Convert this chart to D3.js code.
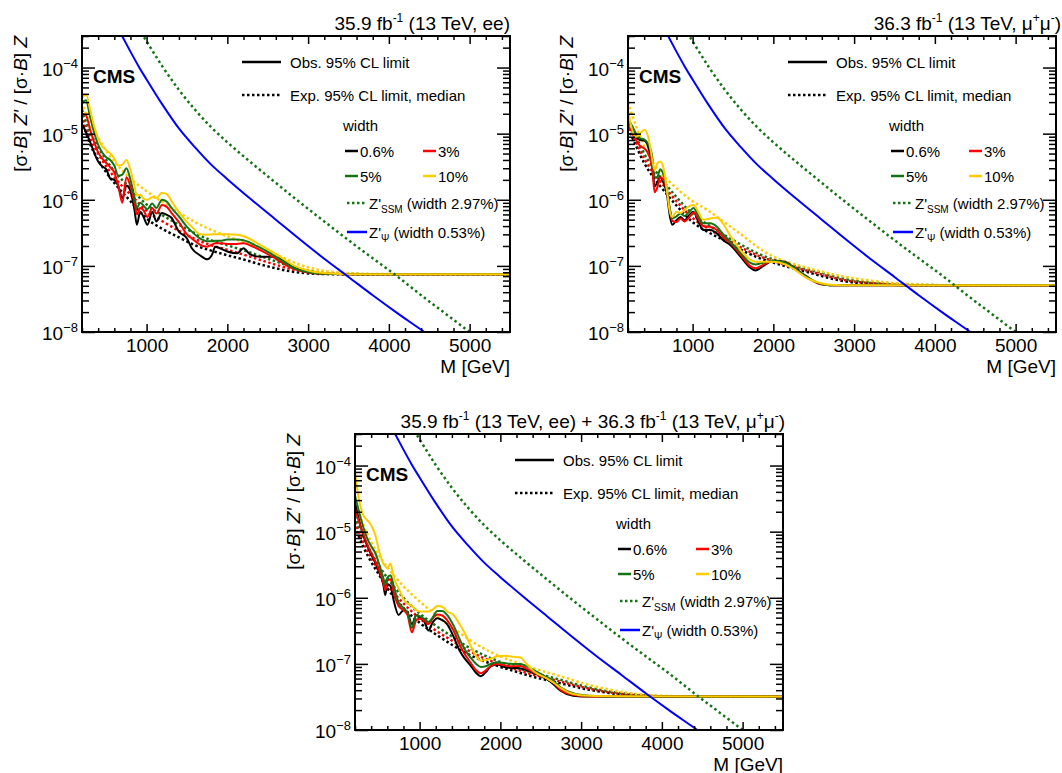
<!DOCTYPE html>
<html>
<head>
<meta charset="utf-8">
<script src="https://cdn.jsdelivr.net/npm/d3@7"></script>
<style>
  body { margin: 0; background: #fff; }
  svg text { font-family: "Liberation Sans", Arial, Helvetica, sans-serif; fill: #000; }
</style>
</head>
<body>
<div id="vis"></div>
<script>
// ---- data ----
const widthLabels = ["0.6%", "3%", "5%", "10%"];
const widthColors = ["#000000", "#ff0000", "#157315", "#ffcc00"];

const xTickValues = [1000, 2000, 3000, 4000, 5000];
const yTickValues = [1e-8, 1e-7, 1e-6, 1e-5, 1e-4];
const yTickLabels = ["−8", "−7", "−6", "−5", "−4"];

// theory curves (same in all three panels)
const psiMass = [600, 700, 800, 900, 1000, 1200, 1400, 1600, 1800, 2000, 2300, 2600, 2900, 3200, 3500, 3800, 4100, 4400, 4700];
const psiXsec = [5.0e-4, 2.95e-4, 1.74e-4, 1.05e-4, 6.6e-5, 2.7e-5, 1.2e-5, 6.2e-6, 3.4e-6, 2.05e-6, 1.0e-6, 5.0e-7, 2.5e-7, 1.28e-7, 6.8e-8, 3.6e-8, 1.95e-8, 1.08e-8, 5.9e-9];
const ssmMass = [800, 900, 960, 1000, 1200, 1400, 1600, 1800, 2000, 2300, 2600, 2900, 3200, 3500, 3800, 4100, 4400, 4700, 5000, 5300];
const ssmXsec = [6.6e-4, 4.2e-4, 3.0e-4, 2.5e-4, 1.02e-4, 4.6e-5, 2.3e-5, 1.25e-5, 7.4e-6, 3.6e-6, 1.8e-6, 9.1e-7, 4.7e-7, 2.45e-7, 1.3e-7, 7.0e-8, 3.6e-8, 1.9e-8, 1.0e-8, 5.3e-9];

// expected limits (common mass grid)
const expMass = [200, 300, 400, 500, 600, 800, 1000, 1200, 1400, 1600, 1800, 2000, 2200, 2400, 2600, 2800, 3000, 3300, 3700, 4200, 5500];

// ee channel
const obsMassEE = [200, 250, 300, 350, 400, 450, 500, 550, 600, 650, 700, 750, 800, 850, 880, 920, 960, 1010, 1070, 1120, 1190, 1250, 1310, 1400, 1500, 1560, 1660, 1750, 1810, 1850, 1910, 2000, 2120, 2200, 2280, 2400, 2570, 2650, 2820, 3000, 3200, 3500, 4000, 5500];
const obsEE_06 = [1.4e-5, 1.05e-5, 7.5e-6, 5.2e-6, 3.8e-6, 3.2e-6, 2.9e-6, 2.1e-6, 2.0e-6, 1.6e-6, 1.05e-6, 1.65e-6, 1.35e-6, 7e-7, 4.2e-7, 6.6e-7, 5.6e-7, 4.2e-7, 6.6e-7, 4.7e-7, 6.3e-7, 5.9e-7, 5.3e-7, 3.3e-7, 2.6e-7, 1.85e-7, 1.45e-7, 1.26e-7, 1.47e-7, 1.95e-7, 1.85e-7, 1.65e-7, 1.55e-7, 1.85e-7, 1.5e-7, 1.38e-7, 1.38e-7, 1.3e-7, 9.5e-8, 8.0e-8, 7.6e-8, 7.5e-8, 7.5e-8, 7.5e-8];
const obsEE_3 = [2.0e-5, 1.9e-5, 1.15e-5, 7.5e-6, 5.2e-6, 4.2e-6, 3.6e-6, 3.1e-6, 2.6e-6, 1.6e-6, 9e-7, 2.2e-6, 1.6e-6, 9e-7, 6e-7, 7.5e-7, 7e-7, 5.5e-7, 7.5e-7, 6.2e-7, 8.3e-7, 7.8e-7, 6.3e-7, 4.6e-7, 3.0e-7, 2.6e-7, 2.1e-7, 1.95e-7, 2.1e-7, 2.2e-7, 2.2e-7, 2.15e-7, 2.15e-7, 2.2e-7, 2.05e-7, 1.75e-7, 1.35e-7, 1.17e-7, 9.0e-8, 8.0e-8, 7.6e-8, 7.5e-8, 7.5e-8, 7.5e-8];
const obsEE_5 = [3.0e-5, 3.2e-5, 1.8e-5, 1.05e-5, 6.8e-6, 5.2e-6, 4.4e-6, 4.0e-6, 3.3e-6, 2.3e-6, 2.4e-6, 3.0e-6, 2.0e-6, 1.1e-6, 7.5e-7, 9e-7, 8.2e-7, 7.2e-7, 8.8e-7, 7.5e-7, 1.0e-6, 9.3e-7, 7.5e-7, 5.6e-7, 3.9e-7, 3.3e-7, 2.6e-7, 2.35e-7, 2.35e-7, 2.4e-7, 2.4e-7, 2.5e-7, 2.5e-7, 2.45e-7, 2.25e-7, 1.9e-7, 1.45e-7, 1.25e-7, 9.3e-8, 8.1e-8, 7.6e-8, 7.5e-8, 7.5e-8, 7.5e-8];
const obsEE_10 = [3.5e-5, 3.9e-5, 2.3e-5, 1.3e-5, 8.5e-6, 6.5e-6, 5.6e-6, 5.0e-6, 4.2e-6, 3.3e-6, 3.4e-6, 4.0e-6, 2.8e-6, 1.6e-6, 1.15e-6, 1.2e-6, 1.05e-6, 1.0e-6, 1.1e-6, 1.05e-6, 1.28e-6, 1.22e-6, 9.5e-7, 6.5e-7, 4.6e-7, 3.9e-7, 3.0e-7, 2.95e-7, 3.0e-7, 3.0e-7, 3.0e-7, 3.0e-7, 2.95e-7, 2.8e-7, 2.55e-7, 2.1e-7, 1.6e-7, 1.38e-7, 1.02e-7, 8.5e-8, 7.8e-8, 7.5e-8, 7.5e-8, 7.5e-8];
const expEE_06 = [1.6e-5, 7e-6, 4e-6, 2.6e-6, 1.8e-6, 9.5e-7, 5.2e-7, 3.6e-7, 2.7e-7, 2.05e-7, 1.7e-7, 1.45e-7, 1.25e-7, 1.06e-7, 9.2e-8, 8.2e-8, 7.7e-8, 7.5e-8, 7.5e-8, 7.5e-8, 7.5e-8];
const expEE_3 = [1.9e-5, 8.5e-6, 5e-6, 3.2e-6, 2.2e-6, 1.2e-6, 6.8e-7, 4.7e-7, 3.4e-7, 2.55e-7, 2.05e-7, 1.75e-7, 1.48e-7, 1.24e-7, 1.04e-7, 8.9e-8, 8.0e-8, 7.6e-8, 7.5e-8, 7.5e-8, 7.5e-8];
const expEE_5 = [2.3e-5, 1.05e-5, 6.2e-6, 4e-6, 2.7e-6, 1.5e-6, 8.5e-7, 5.8e-7, 4.2e-7, 3.1e-7, 2.45e-7, 2.05e-7, 1.72e-7, 1.42e-7, 1.17e-7, 9.7e-8, 8.5e-8, 7.7e-8, 7.5e-8, 7.5e-8, 7.5e-8];
const expEE_10 = [3e-5, 1.4e-5, 8.5e-6, 5.5e-6, 3.8e-6, 2.1e-6, 1.35e-6, 9.2e-7, 6.4e-7, 4.6e-7, 3.5e-7, 2.8e-7, 2.3e-7, 1.88e-7, 1.48e-7, 1.16e-7, 9.5e-8, 8.1e-8, 7.6e-8, 7.5e-8, 7.5e-8];

// mumu channel
const obsMassMM = [200, 250, 300, 350, 400, 450, 500, 530, 560, 600, 640, 680, 720, 750, 800, 850, 900, 960, 1010, 1070, 1130, 1220, 1300, 1380, 1470, 1590, 1710, 1780, 1850, 2000, 2150, 2250, 2420, 2580, 2700, 3000, 3500, 5500];
const obsMM_06 = [1.6e-5, 1.3e-5, 9e-6, 8e-6, 7.9e-6, 6.3e-6, 3.2e-6, 1.6e-6, 1.8e-6, 2.2e-6, 1.8e-6, 1.25e-6, 5.5e-7, 4.2e-7, 4.9e-7, 5.5e-7, 4.9e-7, 5.9e-7, 6.6e-7, 4.7e-7, 3.5e-7, 3.5e-7, 3.1e-7, 2.45e-7, 2.05e-7, 1.4e-7, 9.5e-8, 8.5e-8, 9.5e-8, 1.2e-7, 1.15e-7, 9.5e-8, 6.8e-8, 5.3e-8, 5.1e-8, 5.1e-8, 5.1e-8, 5.1e-8];
const obsMM_3 = [1.3e-5, 1.1e-5, 8e-6, 6.5e-6, 6e-6, 5e-6, 3e-6, 1.3e-6, 1.5e-6, 2.2e-6, 2.0e-6, 1.4e-6, 7e-7, 4.8e-7, 4.6e-7, 5.2e-7, 4.7e-7, 5.5e-7, 6.4e-7, 5.2e-7, 4.0e-7, 3.9e-7, 3.5e-7, 2.7e-7, 2.2e-7, 1.5e-7, 1.0e-7, 9.2e-8, 1.0e-7, 1.2e-7, 1.12e-7, 9.3e-8, 6.6e-8, 5.3e-8, 5.1e-8, 5.1e-8, 5.1e-8, 5.1e-8];
const obsMM_5 = [1.5e-5, 1.3e-5, 1.0e-5, 8.5e-6, 8.2e-6, 7e-6, 4.5e-6, 2.2e-6, 2.2e-6, 2.9e-6, 2.4e-6, 1.5e-6, 7e-7, 5.3e-7, 5.6e-7, 6.2e-7, 5.7e-7, 6.6e-7, 7.5e-7, 5.8e-7, 4.4e-7, 4.4e-7, 3.9e-7, 3.0e-7, 2.3e-7, 1.6e-7, 1.12e-7, 1.05e-7, 1.1e-7, 1.2e-7, 1.12e-7, 9.4e-8, 6.7e-8, 5.4e-8, 5.1e-8, 5.1e-8, 5.1e-8, 5.1e-8];
const obsMM_10 = [2.3e-5, 1.15e-5, 9e-6, 1.0e-5, 1.15e-5, 9e-6, 4e-6, 2.8e-6, 3.5e-6, 3.8e-6, 3.0e-6, 1.45e-6, 6.5e-7, 5.5e-7, 6.6e-7, 6.3e-7, 7.0e-7, 8.0e-7, 8.3e-7, 6.6e-7, 5.0e-7, 5.2e-7, 5.4e-7, 4.3e-7, 2.8e-7, 1.75e-7, 1.25e-7, 1.15e-7, 1.15e-7, 1.15e-7, 1.05e-7, 9.0e-8, 6.5e-8, 5.5e-8, 5.2e-8, 5.1e-8, 5.1e-8, 5.1e-8];
const expMM_06 = [1.2e-5, 6.5e-6, 3.6e-6, 2.3e-6, 1.6e-6, 8.2e-7, 4.6e-7, 3.2e-7, 2.4e-7, 1.75e-7, 1.35e-7, 1.12e-7, 9.5e-8, 8.2e-8, 7.0e-8, 6.1e-8, 5.6e-8, 5.3e-8, 5.1e-8, 5.1e-8, 5.1e-8];
const expMM_3 = [1.4e-5, 7.5e-6, 4.2e-6, 2.7e-6, 1.9e-6, 9.5e-7, 5.3e-7, 3.6e-7, 2.65e-7, 1.9e-7, 1.45e-7, 1.18e-7, 1.0e-7, 8.6e-8, 7.4e-8, 6.4e-8, 5.8e-8, 5.4e-8, 5.1e-8, 5.1e-8, 5.1e-8];
const expMM_5 = [1.7e-5, 9e-6, 5e-6, 3.2e-6, 2.2e-6, 1.1e-6, 6.1e-7, 4.1e-7, 2.9e-7, 2.1e-7, 1.55e-7, 1.25e-7, 1.05e-7, 9.0e-8, 7.8e-8, 6.7e-8, 6.0e-8, 5.5e-8, 5.2e-8, 5.1e-8, 5.1e-8];
const expMM_10 = [3e-5, 1.3e-5, 6.5e-6, 3.8e-6, 2.6e-6, 1.5e-6, 9.5e-7, 6.8e-7, 4.5e-7, 3.0e-7, 1.95e-7, 1.38e-7, 1.12e-7, 9.5e-8, 8.2e-8, 7.2e-8, 6.5e-8, 5.8e-8, 5.3e-8, 5.1e-8, 5.1e-8];

// ee + mumu combination
const obsMassLL = [200, 250, 300, 350, 400, 450, 500, 550, 575, 600, 640, 680, 740, 800, 850, 905, 960, 1010, 1060, 1110, 1160, 1220, 1280, 1340, 1420, 1500, 1560, 1630, 1700, 1760, 1820, 1880, 1960, 2050, 2150, 2250, 2300, 2420, 2580, 2650, 2750, 2900, 3100, 3500, 5500];
const obsLL_06 = [2.8e-5, 1.5e-5, 9e-6, 6.2e-6, 4.5e-6, 3.4e-6, 2.4e-6, 1.6e-6, 1.1e-6, 1.6e-6, 1.5e-6, 9e-7, 5.5e-7, 6.5e-7, 6.0e-7, 4.0e-7, 5.5e-7, 5.0e-7, 4.3e-7, 3.2e-7, 4.2e-7, 4.9e-7, 4.6e-7, 4.0e-7, 2.6e-7, 1.55e-7, 1.2e-7, 9.5e-8, 7.3e-8, 6.5e-8, 7.5e-8, 9.2e-8, 9.8e-8, 9.0e-8, 8.7e-8, 8.5e-8, 8.2e-8, 7.2e-8, 5.8e-8, 5.0e-8, 3.9e-8, 3.3e-8, 3.2e-8, 3.2e-8, 3.2e-8];
const obsLL_3 = [2.2e-5, 1.4e-5, 9.5e-6, 6.5e-6, 4.8e-6, 3.6e-6, 2.6e-6, 1.7e-6, 1.3e-6, 1.8e-6, 1.9e-6, 1.2e-6, 7.5e-7, 6.5e-7, 5.5e-7, 3.0e-7, 4.6e-7, 4.8e-7, 4.5e-7, 4.0e-7, 4.8e-7, 5.6e-7, 5.4e-7, 4.6e-7, 3.2e-7, 1.9e-7, 1.4e-7, 1.05e-7, 8.0e-8, 7.2e-8, 8.0e-8, 9.3e-8, 1.0e-7, 9.5e-8, 9.2e-8, 9.3e-8, 8.8e-8, 7.4e-8, 6.0e-8, 5.3e-8, 4.0e-8, 3.4e-8, 3.2e-8, 3.2e-8, 3.2e-8];
const obsLL_5 = [3.5e-5, 2.0e-5, 1.2e-5, 8e-6, 6e-6, 4.8e-6, 3.2e-6, 2.0e-6, 1.6e-6, 2.0e-6, 2.2e-6, 1.5e-6, 8.5e-7, 7e-7, 6e-7, 3.5e-7, 5.5e-7, 5.2e-7, 4.8e-7, 4.3e-7, 5.0e-7, 6.3e-7, 6.3e-7, 5.5e-7, 3.8e-7, 2.3e-7, 1.65e-7, 1.25e-7, 1.0e-7, 9.0e-8, 9.2e-8, 1.0e-7, 1.06e-7, 1.03e-7, 1.0e-7, 1.0e-7, 9.5e-8, 8.0e-8, 6.2e-8, 5.6e-8, 4.4e-8, 3.6e-8, 3.3e-8, 3.2e-8, 3.2e-8];
const obsLL_10 = [8e-5, 3e-5, 1.8e-5, 1.5e-5, 1.25e-5, 9e-6, 5e-6, 3.3e-6, 3.0e-6, 2.8e-6, 3.3e-6, 2.0e-6, 1.4e-6, 9.5e-7, 8.2e-7, 7.5e-7, 6.5e-7, 6.2e-7, 6.2e-7, 6.2e-7, 6.6e-7, 7.5e-7, 7.3e-7, 6.2e-7, 5.5e-7, 3.9e-7, 2.9e-7, 1.9e-7, 1.3e-7, 1.12e-7, 1.15e-7, 1.2e-7, 1.3e-7, 1.33e-7, 1.28e-7, 1.25e-7, 1.08e-7, 7.6e-8, 6.0e-8, 5.3e-8, 4.3e-8, 3.5e-8, 3.3e-8, 3.25e-8, 3.2e-8];
const expLL_06 = [1.2e-5, 6e-6, 3.5e-6, 2.2e-6, 1.4e-6, 7e-7, 4.2e-7, 2.8e-7, 1.95e-7, 1.4e-7, 1.1e-7, 9e-8, 7.6e-8, 6.4e-8, 5.6e-8, 4.9e-8, 4.3e-8, 3.7e-8, 3.3e-8, 3.2e-8, 3.2e-8];
const expLL_3 = [1.4e-5, 7e-6, 4e-6, 2.5e-6, 1.6e-6, 8.2e-7, 4.9e-7, 3.2e-7, 2.25e-7, 1.6e-7, 1.22e-7, 9.8e-8, 8.2e-8, 6.9e-8, 6.0e-8, 5.2e-8, 4.5e-8, 3.8e-8, 3.35e-8, 3.2e-8, 3.2e-8];
const expLL_5 = [1.7e-5, 8.5e-6, 4.8e-6, 3.0e-6, 2.0e-6, 1.0e-6, 5.8e-7, 3.8e-7, 2.6e-7, 1.8e-7, 1.35e-7, 1.07e-7, 8.8e-8, 7.4e-8, 6.4e-8, 5.5e-8, 4.7e-8, 3.9e-8, 3.4e-8, 3.2e-8, 3.2e-8];
const expLL_10 = [3e-5, 1.3e-5, 7e-6, 4.3e-6, 2.9e-6, 1.5e-6, 8.8e-7, 5.5e-7, 3.6e-7, 2.4e-7, 1.7e-7, 1.3e-7, 1.05e-7, 8.7e-8, 7.3e-8, 6.2e-8, 5.2e-8, 4.2e-8, 3.5e-8, 3.25e-8, 3.2e-8];

// ---- layout ----
const W = 428, H = 296;

const svg = d3.select("#vis").append("svg").attr("width", 1062).attr("height", 773);

const x = d3.scaleLinear().domain([200, 5500]).range([0, W]);
const y = d3.scaleLog().domain([1e-8, 3e-4]).range([H, 0]);

const line = d3.line()
  .x((d) => x(d[0]))
  .y((d) => y(d[1]))
  .curve(d3.curveMonotoneX);

const panels = [
  {
    left: 82, top: 36, titleEnd: 428,
    title: [["35.9 fb", 0], ["-1", 1], [" (13 TeV, ee)", 0]],
    obsMass: obsMassEE,
    obs: [obsEE_06, obsEE_3, obsEE_5, obsEE_10],
    exp: [expEE_06, expEE_3, expEE_5, expEE_10],
  },
  {
    left: 628, top: 36, titleEnd: 433,
    title: [["36.3 fb", 0], ["-1", 1], [" (13 TeV, μ", 0], ["+", 1], ["μ", 0], ["-", 1], [")", 0]],
    obsMass: obsMassMM,
    obs: [obsMM_06, obsMM_3, obsMM_5, obsMM_10],
    exp: [expMM_06, expMM_3, expMM_5, expMM_10],
  },
  {
    left: 355, top: 434, titleEnd: 430,
    title: [["35.9 fb", 0], ["-1", 1], [" (13 TeV, ee) + 36.3 fb", 0], ["-1", 1], [" (13 TeV, μ", 0], ["+", 1], ["μ", 0], ["-", 1], [")", 0]],
    obsMass: obsMassLL,
    obs: [obsLL_06, obsLL_3, obsLL_5, obsLL_10],
    exp: [expLL_06, expLL_3, expLL_5, expLL_10],
  },
];

panels.forEach(drawPanel);

function drawPanel(p, i) {
  const g = svg.append("g").attr("transform", `translate(${p.left},${p.top})`);

  g.append("clipPath").attr("id", "clip" + i)
    .append("rect").attr("width", W).attr("height", H);
  const plot = g.append("g").attr("clip-path", `url(#clip${i})`);

  // expected (dotted)
  p.exp.forEach((vals, k) => {
    plot.append("path")
      .datum(expMass.map((m, j) => [m, vals[j]]))
      .attr("d", line)
      .attr("fill", "none")
      .attr("stroke", widthColors[k])
      .attr("stroke-width", 2.5)
      .attr("stroke-dasharray", "2.5,2.5");
  });

  // observed (solid)
  p.obs.forEach((vals, k) => {
    plot.append("path")
      .datum(p.obsMass.map((m, j) => [m, vals[j]]))
      .attr("d", line)
      .attr("fill", "none")
      .attr("stroke", widthColors[k])
      .attr("stroke-width", 2);
  });

  // theory
  plot.append("path")
    .datum(ssmMass.map((m, j) => [m, ssmXsec[j]]))
    .attr("d", line)
    .attr("fill", "none")
    .attr("stroke", "#157315")
    .attr("stroke-width", 2.5)
    .attr("stroke-dasharray", "2.5,3");
  plot.append("path")
    .datum(psiMass.map((m, j) => [m, psiXsec[j]]))
    .attr("d", line)
    .attr("fill", "none")
    .attr("stroke", "#0000ff")
    .attr("stroke-width", 2);

  // ticks, all four sides pointing in
  const xMinor = d3.range(200, 5500, 200).filter((v) => v % 1000 !== 0);
  const yAll = y.ticks();
  const yMinor = yAll.filter((v) => !yTickValues.some((t) => Math.abs(t - v) / t < 1e-6));

  const axes = [
    d3.axisBottom(x).tickValues(xTickValues).tickSize(-8).tickPadding(7).tickFormat(d3.format("d")),
    d3.axisBottom(x).tickValues(xMinor).tickSize(-4).tickFormat(""),
  ];
  axes.forEach((a) => {
    const ag = g.append("g").attr("transform", `translate(0,${H})`).call(a);
    ag.select(".domain").remove();
    ag.selectAll("line").attr("stroke-width", 1.5);
    ag.selectAll("text").attr("font-size", 19).attr("font-family", "Liberation Sans, Arial, sans-serif");
  });
  [d3.axisTop(x).tickValues(xTickValues).tickSize(-8).tickFormat(""),
   d3.axisTop(x).tickValues(xMinor).tickSize(-4).tickFormat("")].forEach((a) => {
    const ag = g.append("g").call(a);
    ag.select(".domain").remove();
    ag.selectAll("line").attr("stroke-width", 1.5);
  });
  [d3.axisLeft(y).tickValues(yTickValues).tickSize(-13).tickFormat(""),
   d3.axisLeft(y).tickValues(yMinor).tickSize(-7).tickFormat("")].forEach((a) => {
    const ag = g.append("g").call(a);
    ag.select(".domain").remove();
    ag.selectAll("line").attr("stroke-width", 1.5);
  });
  [d3.axisRight(y).tickValues(yTickValues).tickSize(-13).tickFormat(""),
   d3.axisRight(y).tickValues(yMinor).tickSize(-7).tickFormat("")].forEach((a) => {
    const ag = g.append("g").attr("transform", `translate(${W},0)`).call(a);
    ag.select(".domain").remove();
    ag.selectAll("line").attr("stroke-width", 1.5);
  });

  // y tick labels 10^n
  yTickValues.forEach((v, k) => {
    const t = g.append("text")
      .attr("x", -4)
      .attr("y", y(v) + 8)
      .attr("text-anchor", "end")
      .attr("font-size", 19);
    t.append("tspan").text("10");
    t.append("tspan").attr("dy", -8).attr("font-size", 13).text(yTickLabels[k]);
  });

  // frame
  g.append("rect")
    .attr("width", W).attr("height", H)
    .attr("fill", "none").attr("stroke", "#000").attr("stroke-width", 2);

  // axis titles
  g.append("text")
    .attr("x", W).attr("y", H + 41)
    .attr("text-anchor", "end")
    .attr("font-size", 19)
    .text("M [GeV]");

  const yl = g.append("text")
    .attr("transform", `translate(-55,0) rotate(-90)`)
    .attr("text-anchor", "end")
    .attr("font-size", 19);
  yl.append("tspan").text("[σ·");
  yl.append("tspan").attr("font-style", "italic").text("B");
  yl.append("tspan").text("] ");
  yl.append("tspan").attr("font-style", "italic").text("Z′");
  yl.append("tspan").text(" / [σ·");
  yl.append("tspan").attr("font-style", "italic").text("B");
  yl.append("tspan").text("] ");
  yl.append("tspan").attr("font-style", "italic").text("Z");

  // title with superscripts
  const tt = g.append("text")
    .attr("x", p.titleEnd).attr("y", -6)
    .attr("text-anchor", "end")
    .attr("font-size", 19);
  let raised = 0;
  p.title.forEach(([s, sup]) => {
    const dy = sup ? -8 - raised : -raised;
    raised = sup ? -8 : 0;
    tt.append("tspan")
      .attr("dy", dy)
      .attr("font-size", sup ? 12 : 19)
      .text(s);
  });

  // CMS
  g.append("text")
    .attr("x", 11).attr("y", 47)
    .attr("font-size", 19).attr("font-weight", "bold")
    .text("CMS");

  // legend
  const lg = g.append("g").attr("font-size", 15);
  lg.append("line").attr("x1", 160).attr("x2", 199).attr("y1", 26).attr("y2", 26)
    .attr("stroke", "#000").attr("stroke-width", 2.5);
  lg.append("text").attr("x", 208).attr("y", 31.5).text("Obs. 95% CL limit");
  lg.append("line").attr("x1", 160).attr("x2", 199).attr("y1", 59).attr("y2", 59)
    .attr("stroke", "#000").attr("stroke-width", 2.5).attr("stroke-dasharray", "2.5,2.5");
  lg.append("text").attr("x", 208).attr("y", 64.5).text("Exp. 95% CL limit, median");
  lg.append("text").attr("x", 261).attr("y", 94.5).text("width");

  widthLabels.forEach((lab, k) => {
    const lx = k % 2 ? 341 : 263;
    const ly = k < 2 ? 115 : 140;
    lg.append("line").attr("x1", lx).attr("x2", lx + 13).attr("y1", ly).attr("y2", ly)
      .attr("stroke", widthColors[k]).attr("stroke-width", 2.5);
    lg.append("text").attr("x", lx + 15).attr("y", ly + 5.5).text(lab);
  });

  lg.append("line").attr("x1", 265).attr("x2", 285).attr("y1", 167).attr("y2", 167)
    .attr("stroke", "#157315").attr("stroke-width", 2.5).attr("stroke-dasharray", "2.5,2.5");
  const ts = lg.append("text").attr("x", 287).attr("y", 172.5);
  ts.append("tspan").text("Z'");
  ts.append("tspan").attr("dy", 4).attr("font-size", 10).text("SSM");
  ts.append("tspan").attr("dy", -4).text(" (width 2.97%)");

  lg.append("line").attr("x1", 265).attr("x2", 285).attr("y1", 196).attr("y2", 196)
    .attr("stroke", "#0000ff").attr("stroke-width", 2.5);
  const tp = lg.append("text").attr("x", 287).attr("y", 201.5);
  tp.append("tspan").text("Z'");
  tp.append("tspan").attr("dy", 4).attr("font-size", 10).text("Ψ");
  tp.append("tspan").attr("dy", -4).text(" (width 0.53%)");
}
</script>
</body>
</html>
